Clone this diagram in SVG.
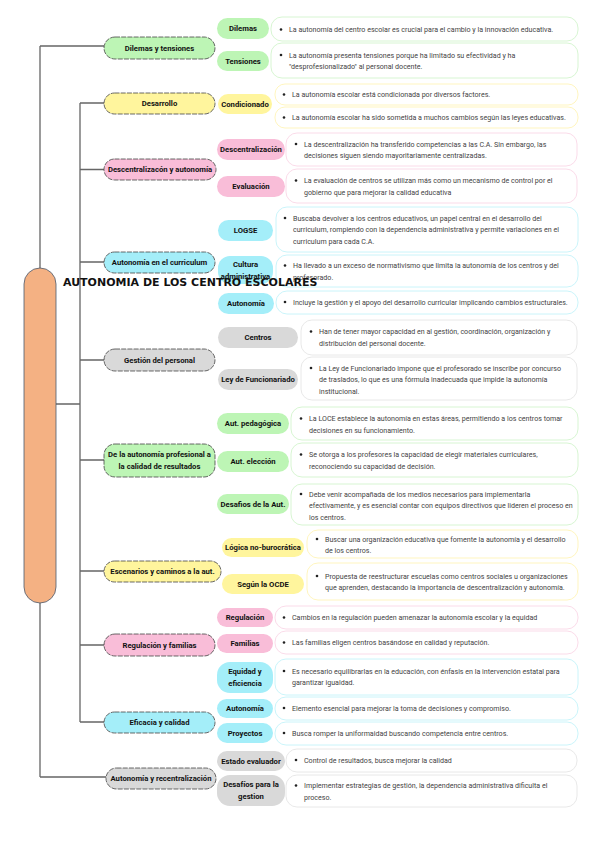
<svg xmlns="http://www.w3.org/2000/svg" width="599" height="848" viewBox="0 0 599 848">
<style>
.bg{fill:#fff}
.ln{stroke:#666;stroke-width:1.3;fill:none}
.l1{stroke:#444;stroke-width:0.8;stroke-dasharray:5 1.2}
.t1{font-family:Roboto,"Liberation Sans",sans-serif;font-weight:bold;font-size:7.7px;fill:#111;text-anchor:middle}
.t2{font-family:Roboto,"Liberation Sans",sans-serif;font-weight:bold;font-size:7.7px;fill:#111;text-anchor:middle}
.td{font-family:Roboto,"Liberation Sans",sans-serif;font-size:7.1px;fill:#444}
.g{fill:#BDF5B5}.y{fill:#FFF59D}.p{fill:#F9BDD8}.c{fill:#A4EEF9}.k{fill:#D9D9D9}
.dg{fill:#fff;stroke:#CDF3C6;stroke-width:0.8}
.dy{fill:#fff;stroke:#FFF3AE;stroke-width:0.8}
.dp{fill:#fff;stroke:#F9D2E3;stroke-width:0.8}
.dc{fill:#fff;stroke:#BDF1F9;stroke-width:0.8}
.dk{fill:#fff;stroke:#E2E2E2;stroke-width:0.8}
.b{fill:#222}
.title{font-family:"DejaVu Sans",Verdana,sans-serif;font-weight:bold;font-size:11px;fill:#111}
</style>
<rect class="bg" width="599" height="848"/>
<g id="connectors">
<path class="ln" d="M40 46V777M40 46H104M40 777H106"/>
<path class="ln" d="M80 103V722M56 404H80M80 103H104M80 169.5H104M80 262H104M80 360H104M80 460H104M80 571H104M80 645H104M80 722H104"/>
</g>
<g id="root">
<rect x="24" y="268" width="32" height="335" rx="16" fill="#F4B183" stroke="#4A5A70" stroke-width="0.8"/>
</g>

<g id="n1">
<rect class="g l1" x="104" y="37" width="111" height="22" rx="11"/>
<text class="t1" x="159.5" y="50.7">Dilemas y tensiones</text>
<g id="n1a"><rect class="g" x="217" y="18" width="52" height="21" rx="10.5"/><text class="t2" x="243" y="31.2">Dilemas</text>
<rect class="dg" x="271" y="17" width="307" height="24" rx="11"/><circle class="b" cx="281" cy="29.5" r="1.3"/>
<text class="td" x="289" y="32">La autonomía del centro escolar es crucial para el cambio y la innovación educativa.</text></g>
<g id="n1b"><rect class="g" x="217" y="51" width="52" height="20" rx="10"/><text class="t2" x="243" y="63.7">Tensiones</text>
<rect class="dg" x="271" y="43" width="307" height="35" rx="11"/><circle class="b" cx="281" cy="55" r="1.3"/>
<text class="td" x="289" y="57.5">La autonomía presenta tensiones porque ha limitado su efectividad y ha</text>
<text class="td" x="289" y="69">"desprofesionalizado" al personal docente.</text></g>
</g>

<g id="n2">
<rect class="y l1" x="104" y="93" width="111" height="21" rx="10.5"/>
<text class="t1" x="159.5" y="106.2">Desarrollo</text>
<g id="n2a"><rect class="y" x="218" y="94" width="54" height="20" rx="10"/><text class="t2" x="245" y="106.7">Condicionado</text>
<rect class="dy" x="275" y="84" width="303" height="21" rx="10"/><circle class="b" cx="284" cy="94.5" r="1.3"/>
<text class="td" x="292" y="97">La autonomía escolar está condicionada por diversos factores.</text>
<rect class="dy" x="275" y="107" width="303" height="21" rx="10"/><circle class="b" cx="284" cy="117.5" r="1.3"/>
<text class="td" x="292" y="120">La autonomía escolar ha sido sometida a muchos cambios según las leyes educativas.</text></g>
</g>

<g id="n3">
<rect class="p l1" x="104" y="159" width="112" height="21" rx="10.5"/>
<text class="t1" x="160" y="172.2">Descentralizacón y autonomía</text>
<g id="n3a"><rect class="p" x="217" y="139" width="68" height="21" rx="10.5"/><text class="t2" x="251" y="152.2">Descentralización</text>
<rect class="dp" x="286" y="133" width="291" height="33" rx="11"/><circle class="b" cx="296" cy="144" r="1.3"/>
<text class="td" x="304" y="146.5">La descentralización ha transferido competencias a las C.A. Sin embargo, las</text>
<text class="td" x="304" y="158">decisiones siguen siendo mayoritariamente centralizadas.</text></g>
<g id="n3b"><rect class="p" x="217" y="176" width="68" height="21" rx="10.5"/><text class="t2" x="251" y="189.2">Evaluación</text>
<rect class="dp" x="286" y="169" width="291" height="34" rx="11"/><circle class="b" cx="296" cy="180.5" r="1.3"/>
<text class="td" x="304" y="183">La evaluación de centros se utilizan más como un mecanismo de control por el</text>
<text class="td" x="304" y="194.5">gobierno que para mejorar la calidad educativa</text></g>
</g>

<g id="n4">
<rect class="c l1" x="104" y="252" width="111" height="21" rx="10.5"/>
<text class="t1" x="159.5" y="265.2">Autonomía en el curriculum</text>
<g id="n4a"><rect class="c" x="218" y="220" width="55" height="21" rx="10.5"/><text class="t2" x="245.5" y="233.2">LOGSE</text>
<rect class="dc" x="276" y="207" width="302" height="45" rx="11"/><circle class="b" cx="285" cy="218" r="1.3"/>
<text class="td" x="293" y="220.5">Buscaba devolver a los centros educativos, un papel central en el desarrollo del</text>
<text class="td" x="293" y="232">curriculum, rompiendo con la dependencia administrativa y permite variaciones en el</text>
<text class="td" x="293" y="243.5">curriculum para cada C.A.</text></g>
<g id="n4b"><rect class="c" x="218" y="256" width="55" height="28" rx="12"/><text class="t2" x="245.5" y="267">Cultura</text><text class="t2" x="245.5" y="278.5">administrativa</text>
<rect class="dc" x="276" y="255" width="302" height="32" rx="11"/><circle class="b" cx="285" cy="265.5" r="1.3"/>
<text class="td" x="293" y="268">Ha llevado a un exceso de normativismo que limita la autonomía de los centros y del</text>
<text class="td" x="293" y="279.5">profesorado.</text></g>
<g id="n4c"><rect class="c" x="218" y="293" width="56" height="21" rx="10.5"/><text class="t2" x="246" y="306.2">Autonomía</text>
<rect class="dc" x="276" y="291" width="302" height="23" rx="11"/><circle class="b" cx="285" cy="302" r="1.3"/>
<text class="td" x="293" y="304.5">Incluye la gestión y el apoyo del desarrollo curricular implicando cambios estructurales.</text></g>
</g>

<g id="n5">
<rect class="k l1" x="104" y="349" width="111" height="22" rx="11"/>
<text class="t1" x="159.5" y="362.7">Gestión del personal</text>
<g id="n5a"><rect class="k" x="218" y="327" width="80" height="21" rx="10.5"/><text class="t2" x="258" y="340.2">Centros</text>
<rect class="dk" x="301" y="320" width="276" height="35" rx="11"/><circle class="b" cx="311" cy="331.5" r="1.3"/>
<text class="td" x="319" y="334">Han de tener mayor capacidad en al gestión, coordinación, organización y</text>
<text class="td" x="319" y="345.5">distribución del personal docente.</text></g>
<g id="n5b"><rect class="k" x="218" y="369" width="80" height="21" rx="10.5"/><text class="t2" x="258" y="382.2">Ley de Funcionariado</text>
<rect class="dk" x="301" y="357" width="276" height="43" rx="11"/><circle class="b" cx="311" cy="368" r="1.3"/>
<text class="td" x="319" y="370.5">La Ley de Funcionariado impone que el profesorado se inscribe por concurso</text>
<text class="td" x="319" y="382">de traslados, lo que es una fórmula inadecuada que impide la autonomía</text>
<text class="td" x="319" y="393.5">institucional.</text></g>
</g>

<g id="n6">
<rect class="g l1" x="104" y="444" width="111" height="33" rx="11"/>
<text class="t1" x="159.5" y="457">De la autonomía profesional a</text>
<text class="t1" x="159.5" y="468.5">la calidad de resultados</text>
<g id="n6a"><rect class="g" x="217" y="413" width="72" height="21" rx="10.5"/><text class="t2" x="253" y="426.2">Aut. pedagógica</text>
<rect class="dg" x="291" y="407" width="287" height="33" rx="11"/><circle class="b" cx="301" cy="418.5" r="1.3"/>
<text class="td" x="309" y="421">La LOCE establece la autonomía en estas áreas, permitiendo a los centros tomar</text>
<text class="td" x="309" y="432.5">decisiones en su funcionamiento.</text></g>
<g id="n6b"><rect class="g" x="217" y="451" width="72" height="21" rx="10.5"/><text class="t2" x="253" y="464.2">Aut. elección</text>
<rect class="dg" x="291" y="443" width="287" height="34" rx="11"/><circle class="b" cx="301" cy="454.5" r="1.3"/>
<text class="td" x="309" y="457">Se otorga a los profesores la capacidad de elegir materiales curriculares,</text>
<text class="td" x="309" y="468.5">reconociendo su capacidad de decisión.</text></g>
<g id="n6c"><rect class="g" x="217" y="494" width="72" height="20" rx="10"/><text class="t2" x="253" y="506.7">Desafios de la Aut.</text>
<rect class="dg" x="291" y="484" width="287" height="41" rx="11"/><circle class="b" cx="301" cy="494" r="1.3"/>
<text class="td" x="309" y="496.5">Debe venir acompañada de los medios necesarios para implementarla</text>
<text class="td" x="309" y="508">efectivamente, y es esencial contar con equipos directivos que lideren el proceso en</text>
<text class="td" x="309" y="519.5">los centros.</text></g>
</g>

<g id="n7">
<rect class="y l1" x="104" y="561" width="117" height="21" rx="10.5"/>
<text class="t1" x="162.5" y="574.2">Escenarios y caminos a la aut.</text>
<g id="n7a"><rect class="y" x="222" y="538" width="82" height="19" rx="9.5"/><text class="t2" x="263" y="550.2">Lógica no-burocrática</text>
<rect class="dy" x="307" y="530" width="271" height="28" rx="11"/><circle class="b" cx="317" cy="539" r="1.3"/>
<text class="td" x="325" y="541.5">Buscar una organización educativa que fomente la autonomía y el desarrollo</text>
<text class="td" x="325" y="553">de los centros.</text></g>
<g id="n7b"><rect class="y" x="222" y="574" width="82" height="20" rx="10"/><text class="t2" x="263" y="586.7">Según la OCDE</text>
<rect class="dy" x="307" y="563" width="271" height="37" rx="11"/><circle class="b" cx="317" cy="576" r="1.3"/>
<text class="td" x="325" y="578.5">Propuesta de reestructurar escuelas como centros sociales u organizaciones</text>
<text class="td" x="325" y="590">que aprenden, destacando la importancia de descentralización y autonomía.</text></g>
</g>

<g id="n8">
<rect class="p l1" x="104" y="634" width="111" height="22" rx="11"/>
<text class="t1" x="159.5" y="647.7">Regulación y familias</text>
<g id="n8a"><rect class="p" x="217" y="608" width="56" height="19" rx="9.5"/><text class="t2" x="245" y="620.2">Regulación</text>
<rect class="dp" x="275" y="606" width="303" height="23" rx="11"/><circle class="b" cx="284" cy="617.5" r="1.3"/>
<text class="td" x="292" y="620">Cambios en la regulación pueden amenazar la autonomía escolar y la equidad</text></g>
<g id="n8b"><rect class="p" x="217" y="634" width="56" height="19" rx="9.5"/><text class="t2" x="245" y="646.2">Familias</text>
<rect class="dp" x="275" y="631" width="303" height="23" rx="11"/><circle class="b" cx="284" cy="642.5" r="1.3"/>
<text class="td" x="292" y="645">Las familias eligen centros basándose en calidad y reputación.</text></g>
</g>

<g id="n9">
<rect class="c l1" x="104" y="712" width="111" height="21" rx="10.5"/>
<text class="t1" x="159.5" y="725.2">Eficacia y calidad</text>
<g id="n9a"><rect class="c" x="217" y="662" width="56" height="31" rx="13"/><text class="t2" x="245" y="674">Equidad y</text><text class="t2" x="245" y="685.5">eficiencia</text>
<rect class="dc" x="275" y="659" width="303" height="36" rx="11"/><circle class="b" cx="284" cy="671" r="1.3"/>
<text class="td" x="292" y="673.5">Es necesario equilibrarlas en la educación, con énfasis en la intervención estatal para</text>
<text class="td" x="292" y="685">garantizar igualdad.</text></g>
<g id="n9b"><rect class="c" x="217" y="699" width="56" height="19" rx="9.5"/><text class="t2" x="245" y="711.2">Autonomía</text>
<rect class="dc" x="275" y="697" width="303" height="23" rx="11"/><circle class="b" cx="284" cy="708" r="1.3"/>
<text class="td" x="292" y="710.5">Elemento esencial para mejorar la toma de decisiones y compromiso.</text></g>
<g id="n9c"><rect class="c" x="217" y="723" width="56" height="20" rx="10"/><text class="t2" x="245" y="735.7">Proyectos</text>
<rect class="dc" x="275" y="722" width="303" height="23" rx="11"/><circle class="b" cx="284" cy="733" r="1.3"/>
<text class="td" x="292" y="735.5">Busca romper la uniformaidad buscando competencia entre centros.</text></g>
</g>

<g id="n10">
<rect class="k l1" x="106" y="768" width="110" height="21" rx="10.5"/>
<text class="t1" x="161" y="781.2">Autonomía y recentralización</text>
<g id="n10a"><rect class="k" x="217" y="751" width="68" height="20" rx="10"/><text class="t2" x="251" y="763.7">Estado evaluador</text>
<rect class="dk" x="286" y="749" width="291" height="23" rx="11"/><circle class="b" cx="296" cy="760" r="1.3"/>
<text class="td" x="304" y="762.5">Control de resultados, busca mejorar la calidad</text></g>
<g id="n10b"><rect class="k" x="217" y="775" width="68" height="31" rx="13"/><text class="t2" x="251" y="787">Desafíos para la</text><text class="t2" x="251" y="798.5">gestion</text>
<rect class="dk" x="286" y="775" width="291" height="32" rx="11"/><circle class="b" cx="296" cy="785.5" r="1.3"/>
<text class="td" x="304" y="788">Implementar estrategias de gestión, la dependencia administrativa dificulta el</text>
<text class="td" x="304" y="799.5">proceso.</text></g>
</g>

<text class="title" x="63" y="286">AUTONOMIA DE LOS CENTRO ESCOLARES</text>
</svg>
